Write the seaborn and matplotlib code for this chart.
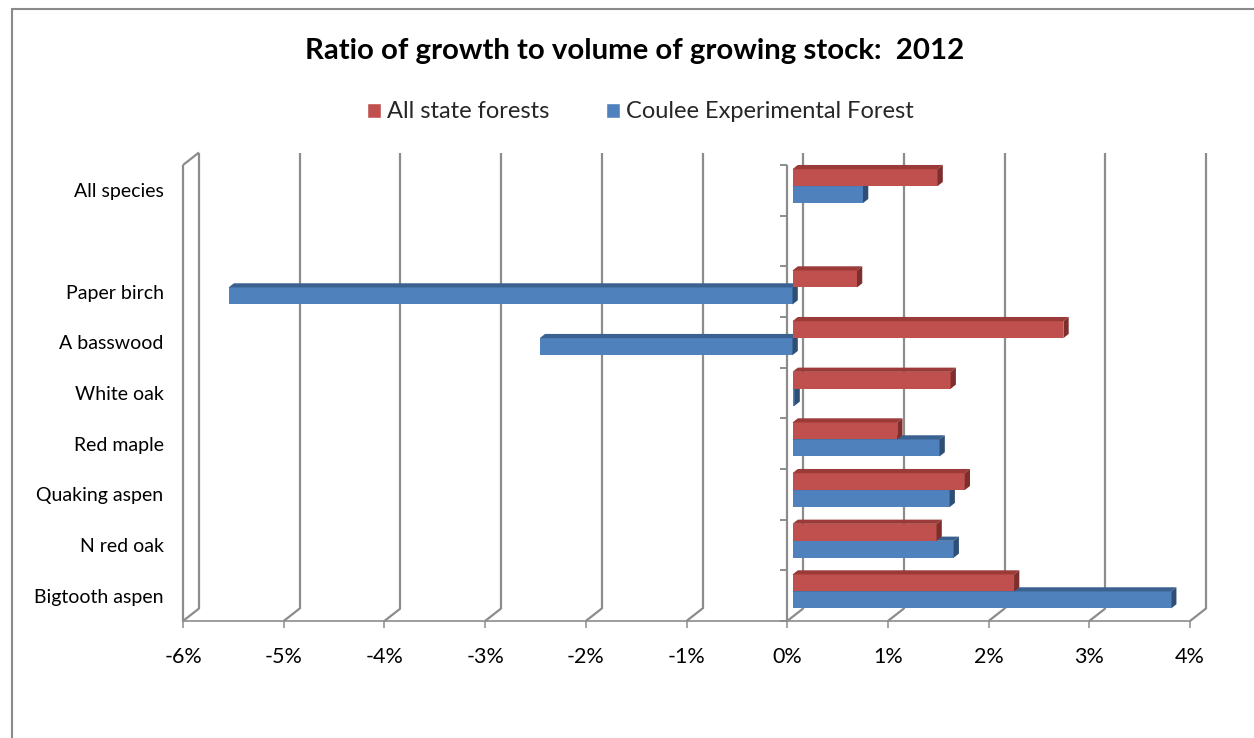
import numpy as np
import pandas as pd
import matplotlib
matplotlib.use("Agg")
import matplotlib.pyplot as plt
import seaborn as sns
from matplotlib.patches import Polygon, Patch
from matplotlib.lines import Line2D
from matplotlib.transforms import Affine2D, IdentityTransform

# ---- data (growth / growing-stock volume, in percent) ----
species = ["All species", "", "Paper birch", "A basswood", "White oak",
           "Red maple", "Quaking aspen", "N red oak", "Bigtooth aspen"]
series = ["All state forests", "Coulee Experimental Forest"]
all_state = [1.44, np.nan, 0.64, 2.69, 1.57, 1.04, 1.71, 1.43, 2.20]
coulee = [0.70, np.nan, -5.60, -2.51, 0.02, 1.46, 1.56, 1.60, 3.76]
x_ticks = [-6, -5, -4, -3, -2, -1, 0, 1, 2, 3, 4]
x_labels = [f"{t}%" for t in x_ticks]

rows = []
for sp, a, c in zip(species, all_state, coulee):
    if sp:
        rows.append((sp, series[0], a))
        rows.append((sp, series[1], c))
df = pd.DataFrame(rows, columns=["species", "forest", "ratio"])

# ---- style ----
sns.set_theme(style="white")
plt.rcParams["font.family"] = ["Lato", "DejaVu Sans"]

RED, BLUE = "#C0504D", "#4F81BD"
RED_TOP, RED_SIDE = "#9A3B39", "#7E2F2D"
BLUE_TOP, BLUE_SIDE = "#3B6190", "#2F4E75"
GRID = "#8C8C8C"

W, H = 1254, 738
fig = plt.figure(figsize=(W / 100, H / 100), dpi=100)
fig.patch.set_facecolor("white")

# front plane of the 3-D box (pixels)
left, right, top, bottom = 183, 1190, 165, 621
ax = fig.add_axes([left / W, (H - bottom) / H, (right - left) / W, (bottom - top) / H])
ax.set_facecolor("none")

sns.barplot(data=df, x="ratio", y="species", hue="forest", order=species,
            hue_order=series, palette=[RED, BLUE], saturation=1, width=0.67,
            orient="h", errorbar=None, legend=False, ax=ax)

ax.set_xlim(-6, 4)
ax.set_ylim(len(species) - 0.5, -0.5)

# depth offsets in pixels (display coords, y up)
BAR_OFF = np.array([5.3, 4.2])     # bar front face behind the front plane
BAR_DEPTH = np.array([5.3, 4.2])   # thickness of each bar
BACK_OFF = np.array([16.0, 12.5])  # back wall

def disp(x, y, off=(0, 0)):
    return ax.transData.transform((x, y)) + np.asarray(off)

def seg(p, q, z=1, **kw):
    ax.add_artist(Line2D([p[0], q[0]], [p[1], q[1]], transform=IdentityTransform(),
                         clip_on=False, color=GRID, lw=1.6, zorder=z,
                         solid_capstyle="butt", **kw))

y_lo, y_hi = len(species) - 0.5, -0.5
# back-wall gridlines and floor slants
for t in x_ticks:
    seg(disp(t, y_lo, BACK_OFF), disp(t, y_hi, BACK_OFF))
    seg(disp(t, y_lo), disp(t, y_lo, BACK_OFF))
# left wall: front edge and top edge
seg(disp(-6, y_lo), disp(-6, y_hi))
seg(disp(-6, y_hi), disp(-6, y_hi, BACK_OFF))

# zero axis on the front plane with category tick marks
seg(disp(0, y_lo), disp(0, y_hi), z=1.5)
bounds = np.arange(-0.5, len(species), 1.0)
ax.plot(np.zeros_like(bounds), bounds, ls="none", marker=0, ms=5,
        mew=1.4, color=GRID, clip_on=False, zorder=1.5)

# bars: move front faces back, then add top and side faces
shift = Affine2D().translate(*BAR_OFF)
for p in list(ax.patches):
    fc = p.get_facecolor()
    is_red = np.allclose(fc[:3], matplotlib.colors.to_rgb(RED), atol=0.02)
    z = 3 if is_red else 2
    p.set_transform(ax.transData + shift)
    p.set_zorder(z)
    p.set_edgecolor("none")
    x0, y0 = p.get_x(), p.get_y()
    x1, y1 = x0 + p.get_width(), y0 + p.get_height()
    xa, xb = min(x0, x1), max(x0, x1)
    # ylim is inverted, so the smaller data y is the upper edge
    yt, yb = min(y0, y1), max(y0, y1)
    A = disp(xa, yt, BAR_OFF)
    B = disp(xb, yt, BAR_OFF)
    C = disp(xb, yb, BAR_OFF)
    top_face = [A, B, B + BAR_DEPTH, A + BAR_DEPTH]
    side_face = [C, B, B + BAR_DEPTH, C + BAR_DEPTH]
    for verts, col in ((top_face, RED_TOP if is_red else BLUE_TOP),
                       (side_face, RED_SIDE if is_red else BLUE_SIDE)):
        ax.add_artist(Polygon(verts, closed=True, transform=IdentityTransform(),
                              facecolor=col, edgecolor="none", clip_on=False,
                              zorder=z + 0.1))

# spines / ticks
for s in ("top", "right", "left"):
    ax.spines[s].set_visible(False)
ax.spines["bottom"].set_color(GRID)
ax.spines["bottom"].set_linewidth(1.2)
ax.set_xticks(x_ticks)
ax.set_xticklabels(x_labels)
ax.tick_params(axis="x", bottom=True, direction="out", length=5, width=1.1,
               color=GRID, pad=14, labelsize=15.5, labelcolor="black")
ax.set_yticks(range(len(species)))
ax.set_yticklabels(species)
ax.tick_params(axis="y", left=False, length=0, pad=14, labelsize=14,
               labelcolor="black")
ax.set_xlabel("")
ax.set_ylabel("")
ax.grid(False)

# title and legend
fig.text(635 / W, 1 - 51 / H, "Ratio of growth to volume of growing stock:  2012",
         ha="center", va="center", fontsize=21.2, fontweight="bold", color="black")
handles = [Patch(facecolor=RED, label=series[0]), Patch(facecolor=BLUE, label=series[1])]
fig.legend(handles=handles, loc="center", bbox_to_anchor=(640 / W, 1 - 112 / H),
           ncol=2, frameon=False, fontsize=17, handlelength=0.6, handleheight=0.6,
           handletextpad=0.25, columnspacing=2.4)

# chart frame
fig.add_artist(Line2D([11.5, 11.5], [0, H - 9], transform=IdentityTransform(),
                      color="#8A8A8A", lw=1.5))
fig.add_artist(Line2D([11.5, W], [H - 9, H - 9], transform=IdentityTransform(),
                      color="#8A8A8A", lw=1.5))

fig.savefig("out.png", dpi=100, facecolor="white")
